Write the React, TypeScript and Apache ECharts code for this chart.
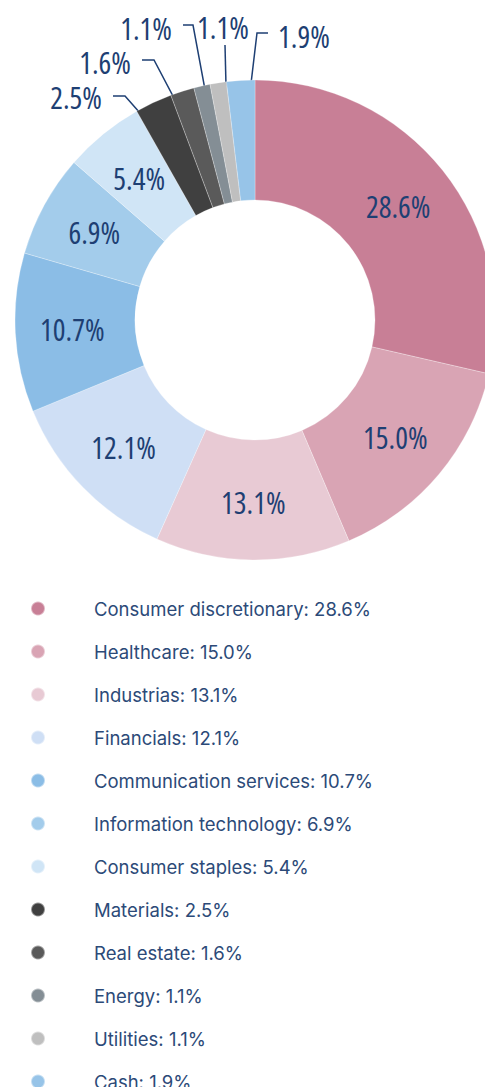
import React, { useEffect, useRef } from "react";
import * as echarts from "echarts";

const categories = [
  "Consumer discretionary",
  "Healthcare",
  "Industrias",
  "Financials",
  "Communication services",
  "Information technology",
  "Consumer staples",
  "Materials",
  "Real estate",
  "Energy",
  "Utilities",
  "Cash",
];
const values = [28.6, 15.0, 13.1, 12.1, 10.7, 6.9, 5.4, 2.5, 1.6, 1.1, 1.1, 1.9];
const colors = [
  "#C87F96",
  "#D9A4B4",
  "#E8CAD4",
  "#CFDFF5",
  "#8BBDE6",
  "#A3CCEB",
  "#D0E5F6",
  "#404040",
  "#5A5A5A",
  "#848E95",
  "#BFBFBF",
  "#97C4E8",
];

// Layout: where the outside labels sit (text anchor + elbow of leader line)
const CENTER = [255, 320];
const R_IN = 120;
const R_OUT = 240;
const R_MID = (R_IN + R_OUT) / 2;
const OUTSIDE_SPOTS: Record<number, { x: number; y: number; align: string; elbow: number[]; end: number[] }> = {
  7: { x: 102, y: 97, align: "right", elbow: [125, 96], end: [113, 96] },
  8: { x: 131, y: 62, align: "right", elbow: [154, 60], end: [142, 60] },
  9: { x: 172, y: 28, align: "right", elbow: [193, 25], end: [183, 25] },
  10: { x: 223, y: 27, align: "center", elbow: [225, 45], end: [225, 45] },
  11: { x: 278, y: 36, align: "left", elbow: [257, 33], end: [268, 33] },
};

const LABEL_COLOR = "#1E3F73";
const LEGEND_COLOR = "#2C4A78";
const LABEL_FONT = "'Open Sans'";

export default function App() {
  const ref = useRef<HTMLDivElement>(null);
  useEffect(() => {
    document.body.style.margin = "0";
    const st = document.createElement("style");
    st.textContent = `text[style*="Open Sans"]{font-stretch:75% !important;}`;
    document.head.appendChild(st);
    if (!ref.current) return;
    const chart = echarts.init(ref.current, undefined, { renderer: "svg" });
    const data = categories.map((name, i) => {
      const outside = OUTSIDE_SPOTS[i] != null;
      return {
        name,
        value: values[i],
        itemStyle: { color: colors[i] },
        label: { position: outside ? "outside" : "inside" },
        labelLine: {
          show: outside,
          lineStyle: { color: LABEL_COLOR, width: 1.5 },
        },
      };
    });
    chart.setOption({
      animation: false,
      legend: {
        orient: "vertical",
        left: 25,
        top: 594,
        height: 600,
        itemWidth: 102,
        itemHeight: 14,
        itemGap: 24,
        icon: "circle",
        selectedMode: false,
        textStyle: {
          color: LEGEND_COLOR,
          fontFamily: "Inter, 'Noto Sans', sans-serif",
          fontSize: 18.5,
          lineHeight: 18,
        },
        data: categories,
        formatter: (name: string) => {
          const i = categories.indexOf(name);
          return `${name}: ${values[i].toFixed(1)}%`;
        },
      },
      series: [
        {
          type: "pie",
          center: CENTER,
          radius: [R_IN, R_OUT],
          startAngle: 90,
          clockwise: true,
          avoidLabelOverlap: false,
          silent: true,
          itemStyle: { borderColor: "rgba(255,255,255,0.45)", borderWidth: 0.6 },
          label: {
            show: true,
            color: LABEL_COLOR,
            fontFamily: LABEL_FONT,
            fontWeight: 500,
            fontSize: 30,
            formatter: (p: any) => `${Number(p.value).toFixed(1)}%`,
          },
          labelLayout: (params: any) => {
            const spot = OUTSIDE_SPOTS[params.dataIndex];
            if (!spot) return {};
            const pts = params.labelLinePoints;
            let start = [CENTER[0], CENTER[1]];
            if (pts && pts.length) {
              const k = R_MID / R_OUT;
              start = [
                CENTER[0] + (pts[0][0] - CENTER[0]) * k,
                CENTER[1] + (pts[0][1] - CENTER[1]) * k,
              ];
            }
            return {
              x: spot.x,
              y: spot.y,
              align: spot.align,
              verticalAlign: "middle",
              labelLinePoints: [start, spot.elbow, spot.end],
            };
          },
          data,
        },
      ],
    });
    return () => {
      chart.dispose();
      st.remove();
    };
  }, []);
  return <div ref={ref} style={{ width: 485, height: 1087 }} />;
}
